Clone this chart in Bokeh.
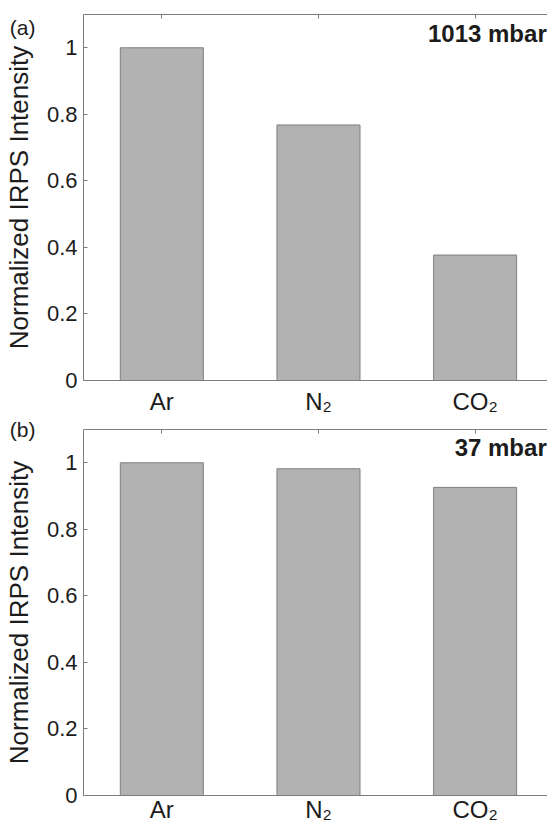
from bokeh.plotting import figure
from bokeh.layouts import column
from bokeh.models import (Range1d, FixedTicker, LinearAxis, NumeralTickFormatter,
                          Label, ColumnDataSource)
from bokeh.embed import file_html
from bokeh.resources import INLINE

# ---- data ----
gases = ["Ar", "N\u2082", "CO\u2082"]
intensity_1013 = [1.0, 0.768, 0.377]
intensity_37 = [1.0, 0.982, 0.926]
panel_tags = ["(a)", "(b)"]
pressures = ["1013 mbar", "37 mbar"]
y_ticks = [0, 0.2, 0.4, 0.6, 0.8, 1.0]
y_label = "Normalized IRPS Intensity"

FONT = "Liberation Sans"
TXT = "#1c1c1c"
AX = "#7d7d7d"
BAR_FILL = "#b2b2b2"
BAR_LINE = "#7f7f7f"
X_END = 3.462
Y_END = 1.1


def make_panel(values, tag, pressure, height, top, bottom, x_standoff, tag_y, pres_y):
    pos = list(range(1, len(gases) + 1))
    src = ColumnDataSource(dict(x=pos, top=values))
    p = figure(width=547, height=height, output_backend="svg", toolbar_location=None,
               x_range=Range1d(0.5, X_END), y_range=Range1d(0, Y_END),
               min_border_left=82, min_border_right=0, min_border_top=top,
               min_border_bottom=bottom, x_axis_type=None, y_axis_type=None)
    p.outline_line_color = None
    p.grid.visible = False
    p.background_fill_color = "white"
    p.border_fill_color = "white"

    p.vbar(x="x", top="top", bottom=0, width=0.53, source=src,
           fill_color=BAR_FILL, line_color=BAR_LINE, line_width=1)

    xt = FixedTicker(ticks=pos)
    xb = LinearAxis(ticker=xt)
    xb.major_label_overrides = {i: g for i, g in zip(pos, gases)}
    xb.major_tick_in = 0
    xb.major_tick_out = 0
    xb.minor_tick_line_color = None
    xb.major_label_standoff = x_standoff
    xb.major_label_text_font = FONT
    xb.major_label_text_font_size = "24px"
    xb.major_label_text_color = TXT
    xb.axis_line_color = AX
    p.add_layout(xb, "below")

    xa = LinearAxis(ticker=xt)
    xa.major_label_overrides = {i: "" for i in pos}
    xa.major_label_text_font_size = "0px"
    xa.major_label_standoff = 0
    xa.major_tick_in = 4
    xa.major_tick_out = 0
    xa.major_tick_line_color = AX
    xa.minor_tick_line_color = None
    xa.axis_line_color = AX
    p.add_layout(xa, "above")

    # main y axis (next to the frame)
    ya = LinearAxis(ticker=FixedTicker(ticks=y_ticks))
    ya.formatter = NumeralTickFormatter(format="0.[0]")
    ya.major_tick_in = 4
    ya.major_tick_out = 0
    ya.major_tick_line_color = AX
    ya.minor_tick_line_color = None
    ya.axis_line_color = AX
    ya.major_label_standoff = 6
    ya.major_label_text_font = FONT
    ya.major_label_text_font_size = "22px"
    ya.major_label_text_color = TXT
    p.add_layout(ya, "left")

    # outer left axis: carries the panel tag and the axis title
    yt = LinearAxis(ticker=FixedTicker(ticks=[tag_y]))
    yt.major_label_overrides = {tag_y: tag}
    yt.major_tick_in = 0
    yt.major_tick_out = 0
    yt.major_tick_line_color = None
    yt.minor_tick_line_color = None
    yt.axis_line_color = None
    yt.major_label_standoff = 8
    yt.major_label_text_font = FONT
    yt.major_label_text_font_size = "21px"
    yt.major_label_text_color = TXT
    yt.axis_label = y_label
    yt.axis_label_text_font = FONT
    yt.axis_label_text_font_size = "26px"
    yt.axis_label_text_font_style = "normal"
    yt.axis_label_text_color = TXT
    yt.axis_label_standoff = -27
    p.add_layout(yt, "left")

    p.add_layout(Label(x=X_END - 0.005, y=pres_y, text=pressure, text_font=FONT,
                       text_font_size="24px", text_font_style="bold", text_color=TXT,
                       text_align="right", text_baseline="middle"))
    return p


pa = make_panel(intensity_1013, panel_tags[0], pressures[0], 417, 14, 37, 7, 1.061, 1.043)
pb = make_panel(intensity_37, panel_tags[1], pressures[1], 408, 12, 30, 0, 1.1, 1.045)

layout = column(pa, pb, spacing=0)
open("out.html", "w").write(file_html(layout, INLINE))
